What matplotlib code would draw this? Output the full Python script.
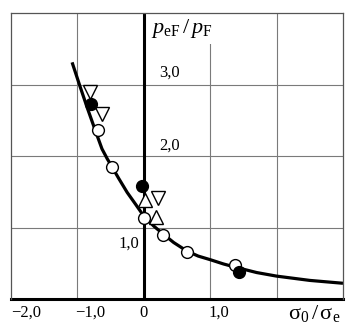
import numpy as np
import matplotlib
matplotlib.use('Agg')
import matplotlib.pyplot as plt

plt.rcParams['font.family'] = ['Liberation Serif', 'DejaVu Serif']
plt.rcParams['mathtext.fontset'] = 'custom'
plt.rcParams['mathtext.rm'] = 'Liberation Serif'
plt.rcParams['mathtext.it'] = 'Liberation Serif:italic'

# curve
curve_x = [-1.08, -0.97, -0.85, -0.72, -0.63, -0.55, -0.48, -0.38, -0.25, -0.12, 0.0,
           0.15, 0.29, 0.45, 0.65, 0.82, 1.0, 1.2, 1.4, 1.7, 2.0, 2.5, 3.0]
curve_y = [3.31, 3.0, 2.67, 2.33, 2.10, 1.96, 1.85, 1.69, 1.49, 1.32, 1.16,
           1.02, 0.91, 0.79, 0.67, 0.60, 0.55, 0.49, 0.44, 0.37, 0.32, 0.26, 0.22]

# experimental points
open_x = [-0.69, -0.48, 0.0, 0.29, 0.65, 1.37]
open_y = [2.36, 1.85, 1.13, 0.90, 0.66, 0.48]
filled_x = [-0.80, -0.03, 1.43]
filled_y = [2.73, 1.58, 0.38]
down_x = [-0.81, -0.63, 0.21]
down_y = [2.90, 2.59, 1.41]
up_x = [0.02, 0.18]
up_y = [1.38, 1.15]

xticks = [-2, -1, 0, 1]
xticklabels = ['\u22122,0', '\u22121,0', '0', '1,0']
yticks = [1, 2, 3]
yticklabels = ['1,0', '2,0', '3,0']

fig = plt.figure(figsize=(3.55, 3.23), dpi=100)
ax = fig.add_axes([11/355, 1-299/323, 332/355, 286/323])
ax.set_xlim(-2, 3)
ax.set_ylim(0, 4)
ax.set_xticks([])
ax.set_yticks([])

for v in [-1, 1, 2]:
    ax.axvline(v, color='#7a7a7a', lw=0.8, zorder=1)
for v in [1, 2, 3]:
    ax.axhline(v, color='#7a7a7a', lw=0.8, zorder=1)
for s in ['left', 'top', 'right']:
    ax.spines[s].set_color('#555555')
    ax.spines[s].set_linewidth(0.9)
    ax.spines[s].set_zorder(6)
ax.spines['bottom'].set_linewidth(2.2)
ax.axvline(0, color='black', lw=2.2, zorder=2)

ax.plot(curve_x, curve_y, color='black', lw=2.3, zorder=3, solid_capstyle='butt')

mk = dict(linestyle='none', mec='black', mew=1.0, zorder=4)
ax.plot(open_x, open_y, 'o', ms=8.5, mfc='white', **mk)
ax.plot(down_x, down_y, 'v', ms=9.5, mfc='white', **mk)
ax.plot(up_x, up_y, '^', ms=9.5, mfc='white', **mk)
ax.plot(filled_x, filled_y, 'o', ms=8.5, mfc='black', **mk)

# tick labels placed like in the original figure
xoff = [15, 13, 0, 9]
for v, lab, dx in zip(xticks, xticklabels, xoff):
    ax.annotate(lab, (v, 0), xytext=(dx, -14), textcoords='offset pixels',
                ha='center', va='center', fontsize=12, annotation_clip=False)
ypos = [(-0.23, 0.78), (0.39, 2.15), (0.39, 3.17)]
for (px, py), lab in zip(ypos, yticklabels):
    ax.text(px, py, lab, ha='center', va='center', fontsize=12)

ax.text(0.11, 3.78, r'$p_{\mathrm{eF}}\,/\,p_{\mathrm{F}}$', ha='left', va='center',
        fontsize=16, zorder=5,
        bbox=dict(facecolor='white', edgecolor='none', pad=3))
ax.annotate(r'$\mathrm{\sigma}_{0}\,/\,\mathrm{\sigma}_{\mathrm{e}}$', (2.56, 0),
            xytext=(0, -15), textcoords='offset pixels', ha='center', va='center',
            fontsize=16, annotation_clip=False)

fig.savefig('out.png', dpi=100)
